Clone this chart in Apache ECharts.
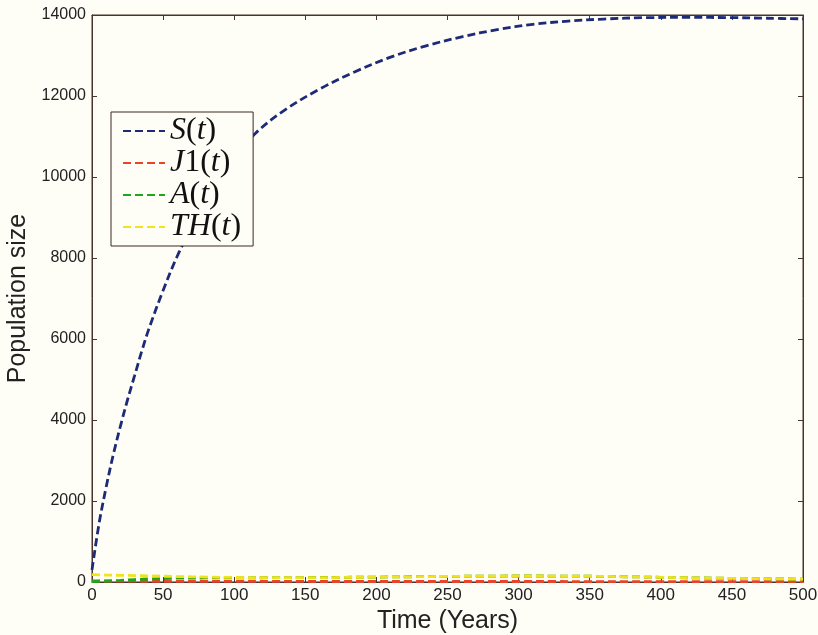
<!DOCTYPE html>
<html>
<head>
<meta charset="utf-8">
<script src="https://cdn.jsdelivr.net/npm/echarts@6/dist/echarts.min.js"></script>
<style>
  html, body { margin: 0; padding: 0; background: #fefdf6; }
  #chart { width: 818px; height: 635px; }
</style>
</head>
<body>
<div id="chart"></div>
<script>
// Time points (years) and population sizes for each compartment
const tS = [0, 5, 10, 15, 20, 25, 30, 35, 40, 50, 60, 70, 80, 90, 100, 115, 135, 160, 185, 210, 235, 260, 285, 310, 335, 360, 390, 420, 450, 475, 500];
const sVals = [300, 1450, 2350, 3150, 3850, 4500, 5100, 5700, 6250, 7200, 8050, 8750, 9400, 9950, 10450, 11080, 11640, 12170, 12600, 12960, 13240, 13460, 13640, 13770, 13850, 13900, 13935, 13940, 13935, 13920, 13905];

const tLow = [0, 10, 20, 30, 40, 60, 80, 100, 125, 150, 175, 200, 225, 250, 275, 300, 325, 350, 375, 400, 425, 450, 475, 500];
const j1Vals = [25, 24, 22, 20, 18, 16, 15, 14, 13, 13, 12, 12, 12, 12, 12, 12, 12, 11, 11, 11, 10, 10, 10, 10];
const aVals = [10, 25, 40, 60, 75, 95, 100, 103, 106, 110, 115, 122, 130, 138, 145, 148, 147, 142, 130, 116, 102, 90, 80, 70];
const thVals = [180, 172, 165, 158, 150, 135, 122, 112, 108, 107, 112, 122, 130, 138, 145, 148, 147, 142, 130, 116, 102, 90, 80, 70];

const xTicks = { min: 0, max: 500, step: 50 };
const yTicks = { min: 0, max: 14000, step: 2000 };

const pairs = (ts, vs) => ts.map((t, i) => [t, vs[i]]);

const bg = '#fefdf6';
const frame = '#4a3328';
const textCol = '#222222';
const sans = 'Liberation Sans, Arial, sans-serif';
const serif = 'Liberation Serif, DejaVu Serif, serif';
const dash = [8, 4];

function lineSeries(name, data, color) {
  return {
    name: name,
    type: 'line',
    data: data,
    smooth: 0.35,
    symbol: 'none',
    showSymbol: false,
    lineStyle: { color: color, width: 2.8, type: dash },
    itemStyle: { color: color },
    emphasis: { disabled: true },
    animation: false
  };
}

// Math-style legend labels: italic letters, upright digits and parentheses
const legendLabels = {
  'S(t)': '{i|S}{n|(}{i|t}{n|)}',
  'J1(t)': '{i|J}{n|1(}{i|t}{n|)}',
  'A(t)': '{i|A}{n|(}{i|t}{n|)}',
  'TH(t)': '{i|TH}{n|(}{i|t}{n|)}'
};

const chart = echarts.init(document.getElementById('chart'), null, { renderer: 'canvas' });

const sideAxisCommon = {
  show: true,
  axisLine: { show: true, onZero: false, lineStyle: { color: frame, width: 1 } },
  axisTick: { show: true, inside: true, length: 5, lineStyle: { color: frame } },
  axisLabel: { show: false },
  splitLine: { show: false }
};

const plain = v => String(v);

chart.setOption({
  backgroundColor: bg,
  animation: false,
  grid: {
    left: 92, right: 15, top: 15, bottom: 53,
    containLabel: false,
    outerBoundsMode: 'none',
    show: true,
    borderColor: frame,
    borderWidth: 1,
    backgroundColor: 'transparent'
  },
  legend: {
    orient: 'vertical',
    left: 111,
    top: 112,
    padding: [3, 12, 3, 11],
    itemGap: 0,
    itemWidth: 42,
    itemHeight: 14,
    borderColor: '#3a2a20',
    borderWidth: 1,
    backgroundColor: bg,
    selectedMode: false,
    itemStyle: { opacity: 0 },
    data: ['S(t)', 'J1(t)', 'A(t)', 'TH(t)'],
    formatter: name => legendLabels[name],
    textStyle: {
      color: '#111',
      rich: {
        i: { fontFamily: serif, fontStyle: 'italic', fontSize: 32, lineHeight: 32, color: '#111' },
        n: { fontFamily: serif, fontSize: 32, lineHeight: 32, color: '#111' }
      }
    }
  },
  xAxis: [
    {
      type: 'value',
      min: xTicks.min, max: xTicks.max, interval: xTicks.step,
      position: 'bottom',
      name: 'Time (Years)',
      nameLocation: 'middle',
      nameGap: 21,
      nameTextStyle: { fontFamily: sans, fontSize: 25, color: textCol },
      axisLine: { show: true, onZero: false, lineStyle: { color: frame, width: 1 } },
      axisTick: { show: true, inside: true, length: 5, lineStyle: { color: frame } },
      axisLabel: { fontFamily: sans, fontSize: 17, color: textCol, margin: 5, formatter: plain },
      splitLine: { show: false }
    },
    Object.assign({ type: 'value', min: xTicks.min, max: xTicks.max, interval: xTicks.step, position: 'top' }, sideAxisCommon)
  ],
  yAxis: [
    {
      type: 'value',
      min: yTicks.min, max: yTicks.max, interval: yTicks.step,
      position: 'left',
      name: 'Population size',
      nameLocation: 'middle',
      nameGap: 56,
      nameTextStyle: { fontFamily: sans, fontSize: 25, color: textCol },
      axisLine: { show: true, onZero: false, lineStyle: { color: frame, width: 1 } },
      axisTick: { show: true, inside: true, length: 5, lineStyle: { color: frame } },
      axisLabel: { fontFamily: sans, fontSize: 16, color: textCol, margin: 6, formatter: plain },
      splitLine: { show: false }
    },
    Object.assign({ type: 'value', min: yTicks.min, max: yTicks.max, interval: yTicks.step, position: 'right' }, sideAxisCommon)
  ],
  series: [
    lineSeries('S(t)', pairs(tS, sVals), '#1c2a78'),
    lineSeries('J1(t)', pairs(tLow, j1Vals), '#e8432b'),
    lineSeries('A(t)', pairs(tLow, aVals), '#1fa61f'),
    lineSeries('TH(t)', pairs(tLow, thVals), '#f2e21c'),
    // empty series that keeps the top/right frame axes active for their tick marks
    { type: 'line', xAxisIndex: 1, yAxisIndex: 1, data: [], symbol: 'none', silent: true }
  ]
});
</script>
</body>
</html>
